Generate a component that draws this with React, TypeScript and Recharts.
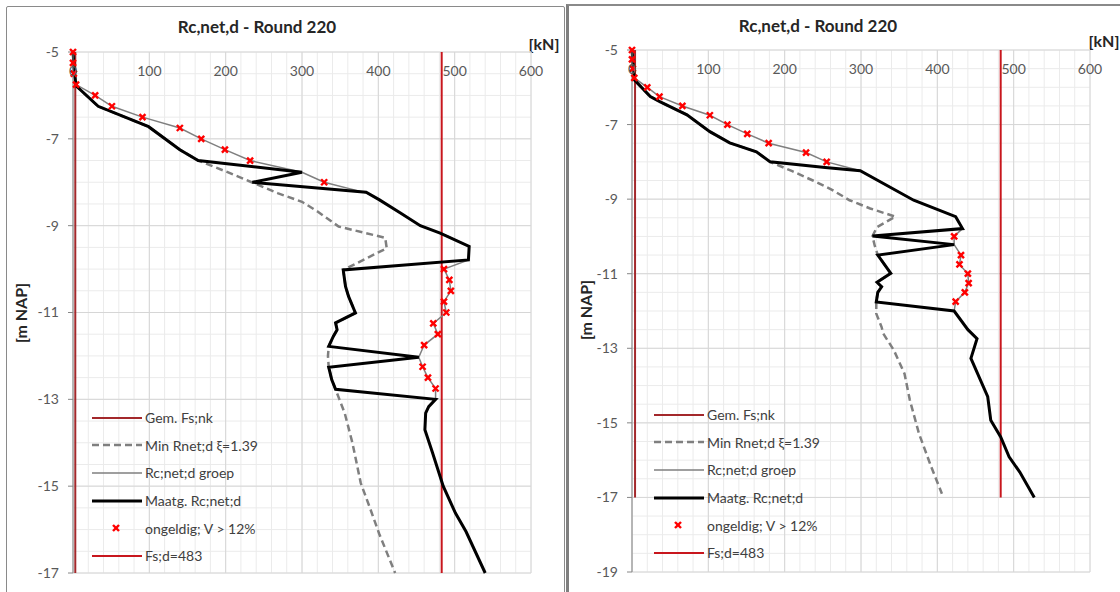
import React from "react";
import {
  CartesianGrid,
  ComposedChart,
  Legend,
  Line,
  Scatter,
  XAxis,
  YAxis,
} from "recharts";

type Pt = [number, number]; // [kN, m NAP]

const FONT = "Lato, 'Open Sans', sans-serif";
const GEM_RED = "#a3282b";
const FSD_RED = "#c8161d";
const GREY = "#7f7f7f";
const AXIS = "#868686";

const xTicks = [0, 100, 200, 300, 400, 500, 600];
const xMinorTicks = [0, 20, 40, 60, 80, 100, 120, 140, 160, 180, 200, 220, 240, 260, 280, 300, 320, 340, 360, 380, 400, 420, 440, 460, 480, 500, 520, 540, 560, 580, 600];
const leftYTicks = [-5, -7, -9, -11, -13, -15, -17];
const rightYTicks = [-5, -7, -9, -11, -13, -15, -17, -19];
const leftYMinor = [-5, -5.5, -6, -6.5, -7, -7.5, -8, -8.5, -9, -9.5, -10, -10.5, -11, -11.5, -12, -12.5, -13, -13.5, -14, -14.5, -15, -15.5, -16, -16.5, -17];
const rightYMinor = [...leftYMinor, -17.5, -18, -18.5, -19];

// ---- left chart
const leftGem: Pt[] = [[3, -5], [3, -17]];
const leftFsd: Pt[] = [[483, -5], [483, -17]];
const leftMin: Pt[] = [
  [0, -5], [2, -5.5], [4, -5.78], [33, -6.25], [99, -6.72], [140, -7.25], [164, -7.5],
  [200, -7.75], [234, -8.0], [268, -8.25], [300, -8.45], [320, -8.67], [348, -9.02],
  [409, -9.28], [411, -9.52], [354, -10.02], [357, -10.4], [361, -10.63], [370, -11.01],
  [344, -11.24], [346, -11.4], [341, -11.55], [335, -11.78], [334, -12.0], [335, -12.26],
  [339, -12.55], [344, -12.77], [349, -13.0], [356, -13.32], [366, -14.0], [377, -14.93],
  [389, -15.5], [401, -16.09], [422, -17],
];
const leftGroup: Pt[] = [
  [0, -5], [0, -5.25], [1, -5.5], [4, -5.75], [29, -6], [51, -6.25], [91, -6.5],
  [140, -6.75], [168, -7], [199, -7.25], [232, -7.5], [300, -7.77], [329, -8],
  [385, -8.25], [410, -8.5], [432, -8.75], [455, -9], [492, -9.25], [519, -9.48],
  [518, -9.79], [486, -10], [493, -10.25], [495, -10.5], [486, -10.75], [489, -11],
  [472, -11.25], [478, -11.5], [460, -11.75], [453, -12.03], [458, -12.25], [465, -12.5],
  [475, -12.75], [475, -13],
];
const leftMaatg: Pt[] = [
  [0, -5], [2, -5.5], [4, -5.78], [33, -6.25], [99, -6.72], [140, -7.25], [164, -7.5],
  [300, -7.77], [235, -8.0], [384, -8.23], [401, -8.4], [429, -8.71], [455, -9.0],
  [481, -9.17], [519, -9.48], [518, -9.79], [354, -10.02], [357, -10.4], [361, -10.63],
  [370, -11.01], [344, -11.24], [346, -11.4], [341, -11.55], [335, -11.78], [453, -12.03],
  [335, -12.26], [339, -12.55], [344, -12.77], [475, -13.0], [466, -13.17], [462, -13.32],
  [461, -13.7], [471, -14.23], [485, -15.0], [501, -15.62], [515, -16.05], [540, -17],
];
const leftInvalid: Pt[] = [
  [0, -5], [0, -5.25], [1, -5.5], [4, -5.75], [29, -6], [51, -6.25], [91, -6.5],
  [140, -6.75], [168, -7], [199, -7.25], [232, -7.5], [329, -8], [486, -10], [493, -10.25],
  [495, -10.5], [486, -10.75], [489, -11], [472, -11.25], [478, -11.5], [460, -11.75],
  [458, -12.25], [465, -12.5], [475, -12.75],
];

// ---- right chart
const rightGem: Pt[] = [[4, -5], [4, -17]];
const rightFsd: Pt[] = [[483, -5], [483, -17]];
const rightMin: Pt[] = [
  [0, -5], [3, -5.8], [24, -6.25], [37, -6.39], [72, -6.74], [102, -7.19], [128, -7.49],
  [163, -7.73], [181, -8.0], [210, -8.25], [237, -8.5], [262, -8.75], [285, -9.03],
  [312, -9.25], [345, -9.47], [321, -9.75], [315, -9.99], [318, -10.25], [322, -10.5],
  [339, -10.99], [321, -11.23], [327, -11.35], [322, -11.5], [320, -11.76], [320, -12.07],
  [327, -12.43], [329, -12.6], [343, -13.05], [357, -13.68], [364, -14.39], [376, -15.29],
  [392, -16.18], [406, -16.9],
];
const rightGroup: Pt[] = [
  [0, -5], [0, -5.25], [1, -5.5], [3, -5.75], [20, -6], [36, -6.25], [66, -6.5],
  [102, -6.75], [125, -7], [151, -7.25], [179, -7.5], [228, -7.75], [255, -8],
  [299, -8.24], [369, -9.03], [424, -9.47], [433, -9.79], [422, -10], [422, -10.22],
  [431, -10.5], [429, -10.75], [440, -11], [441, -11.25], [436, -11.5], [424, -11.75],
  [422, -12],
];
const rightMaatg: Pt[] = [
  [0, -5], [3, -5.8], [24, -6.25], [37, -6.39], [72, -6.74], [102, -7.19], [128, -7.49],
  [163, -7.73], [181, -8.0], [253, -8.15], [299, -8.24], [369, -9.03], [424, -9.47],
  [433, -9.79], [315, -9.99], [422, -10.22], [322, -10.5], [339, -10.99], [321, -11.23],
  [327, -11.35], [322, -11.5], [320, -11.76], [422, -12.0], [440, -12.5], [452, -12.74],
  [444, -13.27], [466, -14.3], [470, -14.93], [483, -15.38], [494, -15.91], [508, -16.32],
  [527, -17],
];
const rightInvalid: Pt[] = [
  [0, -5], [0, -5.25], [1, -5.5], [3, -5.75], [20, -6], [36, -6.25], [66, -6.5],
  [102, -6.75], [125, -7], [151, -7.25], [179, -7.5], [228, -7.75], [255, -8],
  [422, -10], [431, -10.5], [429, -10.75], [440, -11], [441, -11.25], [436, -11.5],
  [424, -11.75],
];

const legendItems = [
  { label: "Gem. Fs;nk", color: GEM_RED, width: 2 },
  { label: "Min Rnet;d \u03be=1.39", color: GREY, width: 2.5, dash: "7 4" },
  { label: "Rc;net;d groep", color: GREY, width: 1.5 },
  { label: "Maatg. Rc;net;d", color: "#000", width: 3 },
  { label: "ongeldig; V > 12%", color: "#ff0000", width: 0, marker: true },
  { label: "Fs;d=483", color: FSD_RED, width: 2 },
];

const toXY = (pts: Pt[]) => pts.map(([x, y]) => ({ x, y }));

function XMark(props: any) {
  const { cx, cy } = props;
  if (cx == null || cy == null) return null;
  const s = 3;
  return (
    <g>
      <line x1={cx - s} y1={cy - s} x2={cx + s} y2={cy + s} stroke="#ff0000" strokeWidth={2.4} />
      <line x1={cx - s} y1={cy + s} x2={cx + s} y2={cy - s} stroke="#ff0000" strokeWidth={2.4} />
    </g>
  );
}

function LegendBox() {
  return (
    <div style={{ fontFamily: FONT, fontSize: 14, color: "#404040" }}>
      {legendItems.map((it) => (
        <div key={it.label} style={{ display: "flex", alignItems: "center", height: 27.6 }}>
          <svg width={50} height={12} style={{ display: "block" }}>
            {it.marker ? (
              <XMark cx={24} cy={6} />
            ) : (
              <line x1={0} y1={6} x2={50} y2={6} stroke={it.color} strokeWidth={it.width} strokeDasharray={it.dash} />
            )}
          </svg>
          <span style={{ marginLeft: 3, whiteSpace: "nowrap" }}>{it.label}</span>
        </div>
      ))}
    </div>
  );
}

interface IPanel {
  width: number;
  height: number;
  margin: { top: number; right: number; bottom: number; left: number };
  yMin: number;
  yTicks: number[];
  yMinor: number[];
  gem: Pt[];
  fsd: Pt[];
  min: Pt[];
  group: Pt[];
  maatg: Pt[];
  invalid: Pt[];
  legendLeft: number;
  legendTop: number;
}

function DepthChart(p: IPanel) {
  const tickStyle = { fill: "#595959", fontSize: 14, fontFamily: FONT };
  return (
    <ComposedChart width={p.width} height={p.height} margin={p.margin}>
      <XAxis
        type="number"
        dataKey="x"
        domain={[0, 600]}
        ticks={xTicks}
        interval={0}
        orientation="top"
        mirror
        tickSize={0}
        tickMargin={14}
        axisLine={false}
        tickLine={false}
        tick={tickStyle}
      />
      <YAxis
        type="number"
        dataKey="y"
        domain={[p.yMin, -5]}
        ticks={p.yTicks}
        interval={0}
        width={60}
        tickSize={5}
        tickMargin={9}
        axisLine={{ stroke: AXIS }}
        tickLine={{ stroke: AXIS }}
        tick={tickStyle}
      />
      {/* minor grid first, major grid on top */}
      <CartesianGrid verticalValues={xMinorTicks} horizontalValues={p.yMinor} stroke="#ebebeb" />
      <CartesianGrid stroke="#d6d6d6" />
      <Line data={toXY(p.gem)} dataKey="y" stroke={GEM_RED} strokeWidth={2} dot={false} activeDot={false} isAnimationActive={false} />
      <Line data={toXY(p.fsd)} dataKey="y" stroke={FSD_RED} strokeWidth={2} dot={false} activeDot={false} isAnimationActive={false} />
      <Line data={toXY(p.min)} dataKey="y" stroke={GREY} strokeWidth={2.5} strokeDasharray="7 4" dot={false} activeDot={false} isAnimationActive={false} />
      <Line data={toXY(p.group)} dataKey="y" stroke={GREY} strokeWidth={1.5} dot={false} activeDot={false} isAnimationActive={false} />
      <Line data={toXY(p.maatg)} dataKey="y" stroke="#000" strokeWidth={3} dot={false} activeDot={false} isAnimationActive={false} />
      <Scatter data={toXY(p.invalid)} dataKey="y" shape={<XMark />} isAnimationActive={false} />
      <Legend
        layout="vertical"
        align="center"
        verticalAlign="middle"
        content={() => <LegendBox />}
        wrapperStyle={{ left: p.legendLeft, top: p.legendTop, width: "auto" }}
      />
    </ComposedChart>
  );
}

const titleStyle: React.CSSProperties = {
  position: "absolute",
  fontFamily: FONT,
  fontWeight: 700,
  fontSize: 17,
  color: "#262626",
  whiteSpace: "nowrap",
  transform: "translate(-50%, -50%)",
};

export default function App() {
  return (
    <div style={{ position: "fixed", left: 0, top: 0, width: 1120, height: 592, overflow: "hidden", background: "#fff" }}>
      <div style={{ position: "absolute", left: 6, top: 6, width: 557, height: 620, border: "1.5px solid #8a8a8a", borderRadius: 2 }} />
      <div style={{ position: "absolute", left: 566, top: 4, width: 600, height: 620, borderTop: "2px solid #8a8a8a", borderLeft: "3px solid #7f7f7f" }} />

      <div style={{ ...titleStyle, left: 257, top: 26 }}>Rc,net,d - Round 220</div>
      <div style={{ ...titleStyle, left: 818, top: 25 }}>Rc,net,d - Round 220</div>
      <div style={{ ...titleStyle, left: 544, top: 43, fontSize: 16 }}>[kN]</div>
      <div style={{ ...titleStyle, left: 1104, top: 40, fontSize: 16 }}>[kN]</div>
      <div style={{ ...titleStyle, left: 20, top: 313, fontSize: 16, transform: "translate(-50%, -50%) rotate(-90deg)" }}>[m NAP]</div>
      <div style={{ ...titleStyle, left: 585, top: 310, fontSize: 16, transform: "translate(-50%, -50%) rotate(-90deg)" }}>[m NAP]</div>

      <div style={{ position: "absolute", left: 0, top: 0 }}>
        <DepthChart
          width={565}
          height={592}
          margin={{ top: 52, right: 34, bottom: 19, left: 13 }}
          yMin={-17}
          yTicks={leftYTicks}
          yMinor={leftYMinor}
          gem={leftGem}
          fsd={leftFsd}
          min={leftMin}
          group={leftGroup}
          maatg={leftMaatg}
          invalid={leftInvalid}
          legendLeft={92}
          legendTop={404}
        />
      </div>
      <div style={{ position: "absolute", left: 567, top: 0 }}>
        <DepthChart
          width={553}
          height={592}
          margin={{ top: 50, right: 30, bottom: 20, left: 5 }}
          yMin={-19}
          yTicks={rightYTicks}
          yMinor={rightYMinor}
          gem={rightGem}
          fsd={rightFsd}
          min={rightMin}
          group={rightGroup}
          maatg={rightMaatg}
          invalid={rightInvalid}
          legendLeft={87}
          legendTop={401}
        />
      </div>
    </div>
  );
}
